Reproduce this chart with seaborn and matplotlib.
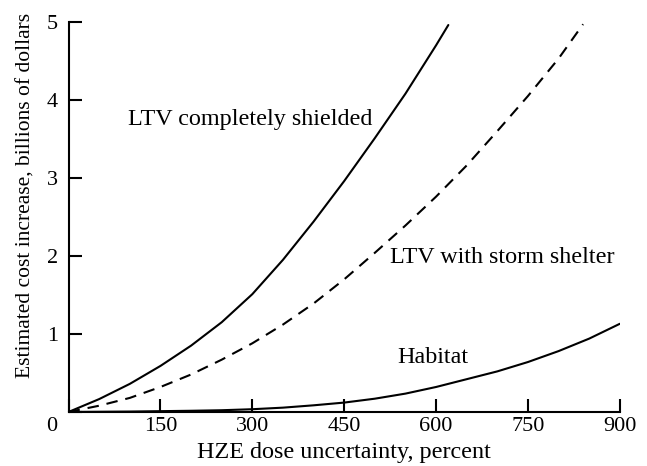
import numpy as np
import pandas as pd
import matplotlib
matplotlib.use("Agg")
import matplotlib.pyplot as plt
import seaborn as sns

# values
shielded_x = [0, 50, 100, 150, 200, 250, 300, 350, 400, 450, 500, 550, 600, 620]
shielded_y = [0, 0.165, 0.36, 0.59, 0.85, 1.15, 1.51, 1.95, 2.44, 2.96, 3.51, 4.08, 4.70, 4.96]

shelter_x = [0, 50, 100, 150, 200, 250, 300, 350, 400, 450, 500, 550, 600, 650, 700, 750, 800, 840]
shelter_y = [0, 0.08, 0.18, 0.32, 0.48, 0.67, 0.88, 1.12, 1.39, 1.70, 2.04, 2.39, 2.76, 3.16, 3.60, 4.05, 4.53, 4.97]

habitat_x = [0, 100, 150, 200, 250, 300, 350, 400, 450, 500, 550, 600, 650, 700, 750, 800, 850, 900]
habitat_y = [0, 0.005, 0.01, 0.015, 0.022, 0.035, 0.055, 0.085, 0.12, 0.17, 0.235, 0.32, 0.42, 0.52, 0.64, 0.78, 0.94, 1.13]

x_ticks = [0, 150, 300, 450, 600, 750, 900]
y_ticks = [0, 1, 2, 3, 4, 5]

sns.set_style("ticks")
plt.rcParams['font.family'] = ['Liberation Serif', 'DejaVu Serif']
plt.rcParams['text.color'] = 'black'
plt.rcParams['axes.labelcolor'] = 'black'

fig = plt.figure(figsize=(6.47, 4.66), dpi=100)
ax = fig.add_axes([0.106, 0.116, 0.852, 0.837])

sns.lineplot(x=shielded_x, y=shielded_y, ax=ax, color='black', linewidth=1.5)
sns.lineplot(x=shelter_x, y=shelter_y, ax=ax, color='black', linewidth=1.5)
ax.lines[-1].set_dashes((5.5, 3.8))
sns.lineplot(x=habitat_x, y=habitat_y, ax=ax, color='black', linewidth=1.5)

ax.set_xlim(0, 900)
ax.set_ylim(0, 5)
# the single "0" at the origin is drawn separately below
ax.set_xticks(x_ticks, [''] + [str(t) for t in x_ticks[1:]])
ax.set_yticks(y_ticks, [''] + [str(t) for t in y_ticks[1:]])
sns.despine(ax=ax)
for s in ['left', 'bottom']:
    ax.spines[s].set_linewidth(1.5)
    ax.spines[s].set_color('black')
ax.tick_params(axis='both', direction='in', length=9.5, width=1.5, color='black',
               labelsize=16, labelcolor='black')
ax.tick_params(axis='x', pad=4)
ax.tick_params(axis='y', pad=7.5)
ax.annotate('0', xy=(0, 0), xytext=(-12, -4), textcoords='offset points',
            ha='center', va='top', fontsize=16, color='black')

ax.set_xlabel('HZE dose uncertainty, percent', fontsize=17.4, labelpad=4)
ax.set_ylabel('Estimated cost increase, billions of dollars', fontsize=15.5)
ax.yaxis.set_label_coords(-0.06, 0.556)

ax.text(97, 3.75, 'LTV completely shielded', fontsize=17.4, va='center', ha='left')
ax.text(524, 1.98, 'LTV with storm shelter', fontsize=17.4, va='center', ha='left')
ax.text(595, 0.70, 'Habitat', fontsize=17.4, va='center', ha='center')

fig.savefig('out.png', dpi=100)
